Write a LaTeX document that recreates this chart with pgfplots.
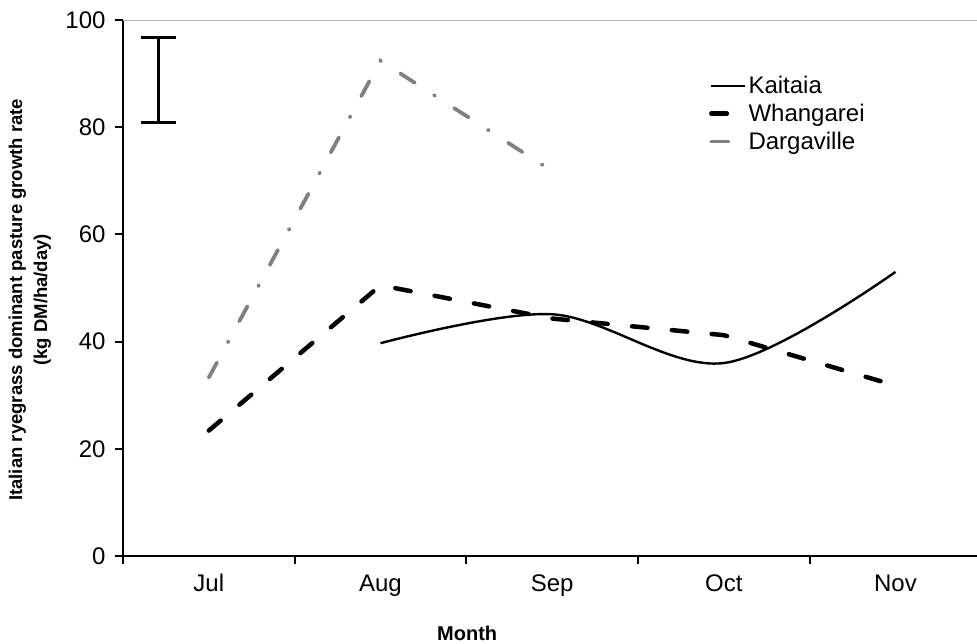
\documentclass[border=0pt]{standalone}
\usepackage{fontspec}
\setmainfont{Liberation Sans}
\usepackage{pgfplots}
\pgfplotsset{compat=1.18}
\definecolor{dargray}{HTML}{808080}
\begin{document}
\begin{tikzpicture}
\path[use as bounding box] (-123pt,-88pt) rectangle (854pt,556pt);
\begin{axis}[
    at={(0pt,0pt)}, anchor=south west,
    width=854pt, height=536pt, scale only axis,
    xmin=0.5, xmax=5.475,
    ymin=0, ymax=100,
    axis x line*=bottom, axis y line*=left,
    axis line style={line width=2pt, black},
    xtick={0.5,1.5,2.5,3.5,4.5},
    xticklabels={},
    extra x ticks={1,2,3,4,5},
    extra x tick labels={Jul,Aug,Sep,Oct,Nov},
    extra x tick style={major tick length=0pt,
        xticklabel style={yshift=-15pt}},
    ytick={0,20,40,60,80,100},
    tick align=outside,
    major tick length=8pt,
    tick style={line width=2pt, black},
    ticklabel style={font=\fontsize{24}{28}\selectfont},
    yticklabel style={xshift=-6pt},
    /pgf/number format/assume math mode=true,
    xlabel={Month},
    xlabel style={at={(axis description cs:0.403,-0.144)}, anchor=center,
        font=\bfseries\fontsize{20}{24}\selectfont},
    ylabel={Italian ryegrass dominant pasture growth rate\\(kg DM/ha/day)},
    ylabel style={at={(axis description cs:-0.109,0.478)}, anchor=center,
        align=center, font=\bfseries\fontsize{18.5}{25}\selectfont},
    legend style={at={(rel axis cs:0.686,0.899)}, anchor=north west,
        draw=none, fill=none, inner sep=0pt, row sep=5pt,
        font=\fontsize{24}{27}\selectfont,
        nodes={inner xsep=1pt}},
    legend cell align=left,
    legend image code/.code={\draw[#1] (0pt,0pt) -- (34pt,0pt);},
    clip=false,
]
\addplot[black, line width=2.4pt, smooth, tension=0.55]
    coordinates {(2,39.7) (3,45.1) (4,36.0) (5,53.0)};
\addlegendentry{Kaitaia}
\addplot[black, line width=4.5pt, line cap=round, dash pattern=on 15.5pt off 24.5pt]
    coordinates {(1,23.4) (2,50.5) (3,44.3) (4,41.2) (5,31.8)};
\addlegendentry{Whangarei}
\addplot[dargray, line width=3.8pt, line cap=round,
    dash pattern=on 17pt off 23pt on 1pt off 23pt]
    coordinates {(1,33.3) (2,92.4) (3,71.8)};
\addlegendentry{Dargaville}
\addplot[forget plot, draw=none, mark=none,
    error bars/.cd, y dir=both, y explicit,
    error bar style={draw=black, line width=3pt, solid},
    error mark options={draw=black, rotate=90, mark size=17.5pt, line width=3pt, solid}]
    coordinates {(0.704,88.8) +- (0,8)};
\draw[gray!60, line width=0.8pt] (rel axis cs:0,1) -- (rel axis cs:1,1) -- (rel axis cs:1,0);
\end{axis}
\end{tikzpicture}
\end{document}
